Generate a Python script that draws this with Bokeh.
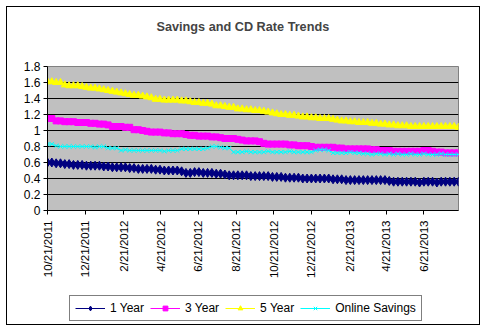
import pandas as pd
from math import pi
from bokeh.plotting import figure
from bokeh.layouts import column
from bokeh.models import Range1d, FixedTicker, Legend, LegendItem, Title
from bokeh.embed import file_html
from bokeh.resources import INLINE

# ---------------- data ----------------
start_date = "2011-10-21"
n_points = 96
dates = pd.date_range(start_date, periods=n_points, freq="7D")

one_year = [
    0.60, 0.60, 0.59, 0.59, 0.58, 0.58, 0.57, 0.57, 0.57, 0.56, 0.56, 0.56,
    0.56, 0.55, 0.55, 0.54, 0.54, 0.54, 0.54, 0.53, 0.53, 0.52, 0.52, 0.52,
    0.52, 0.51, 0.51, 0.50, 0.50, 0.50, 0.50, 0.49, 0.47, 0.47, 0.48, 0.48,
    0.47, 0.47, 0.47, 0.46, 0.46, 0.45, 0.44, 0.44, 0.44, 0.44, 0.44, 0.43,
    0.43, 0.43, 0.43, 0.43, 0.42, 0.42, 0.42, 0.41, 0.41, 0.41, 0.41, 0.40,
    0.40, 0.40, 0.40, 0.40, 0.40, 0.40, 0.39, 0.39, 0.39, 0.38, 0.38, 0.38,
    0.38, 0.38, 0.38, 0.38, 0.38, 0.38, 0.38, 0.37, 0.36, 0.36, 0.36, 0.36,
    0.36, 0.36, 0.35, 0.36, 0.36, 0.36, 0.35, 0.36, 0.36, 0.36, 0.36, 0.36,
]
three_year = [
    1.15, 1.15, 1.12, 1.12, 1.11, 1.11, 1.11, 1.10, 1.10, 1.10, 1.09, 1.09,
    1.08, 1.08, 1.07, 1.05, 1.05, 1.05, 1.04, 1.04, 1.01, 1.01, 1.00, 0.99,
    0.98, 0.98, 0.98, 0.97, 0.97, 0.96, 0.96, 0.96, 0.95, 0.94, 0.94, 0.93,
    0.93, 0.93, 0.92, 0.92, 0.91, 0.90, 0.90, 0.90, 0.89, 0.88, 0.87, 0.87,
    0.87, 0.86, 0.84, 0.83, 0.83, 0.83, 0.83, 0.83, 0.82, 0.82, 0.81, 0.81,
    0.81, 0.80, 0.79, 0.79, 0.79, 0.79, 0.79, 0.78, 0.78, 0.77, 0.77, 0.77,
    0.77, 0.77, 0.77, 0.76, 0.76, 0.75, 0.75, 0.75, 0.74, 0.74, 0.74, 0.74,
    0.74, 0.74, 0.74, 0.75, 0.75, 0.74, 0.73, 0.73, 0.72, 0.72, 0.72, 0.72,
]
five_year = [
    1.61, 1.61, 1.60, 1.60, 1.57, 1.56, 1.56, 1.56, 1.55, 1.54, 1.53, 1.53,
    1.52, 1.51, 1.50, 1.49, 1.48, 1.47, 1.46, 1.45, 1.44, 1.44, 1.43, 1.42,
    1.41, 1.39, 1.39, 1.38, 1.38, 1.38, 1.38, 1.37, 1.37, 1.36, 1.35, 1.35,
    1.34, 1.34, 1.33, 1.31, 1.31, 1.30, 1.29, 1.29, 1.27, 1.27, 1.26, 1.26,
    1.25, 1.25, 1.24, 1.23, 1.22, 1.21, 1.20, 1.20, 1.19, 1.19, 1.18, 1.17,
    1.17, 1.16, 1.16, 1.15, 1.15, 1.15, 1.14, 1.13, 1.12, 1.12, 1.11, 1.11,
    1.10, 1.10, 1.10, 1.09, 1.09, 1.08, 1.08, 1.07, 1.07, 1.06, 1.06, 1.06,
    1.05, 1.05, 1.05, 1.05, 1.05, 1.05, 1.05, 1.05, 1.05, 1.05, 1.05, 1.04,
]
online_savings = [
    0.83, 0.83, 0.81, 0.80, 0.80, 0.80, 0.80, 0.80, 0.80, 0.80, 0.80, 0.79,
    0.80, 0.80, 0.78, 0.78, 0.78, 0.75, 0.76, 0.75, 0.75, 0.75, 0.75, 0.75,
    0.75, 0.75, 0.75, 0.74, 0.75, 0.75, 0.75, 0.77, 0.77, 0.77, 0.77, 0.77,
    0.77, 0.78, 0.80, 0.80, 0.79, 0.78, 0.78, 0.73, 0.73, 0.73, 0.74, 0.73,
    0.73, 0.73, 0.73, 0.74, 0.73, 0.73, 0.73, 0.73, 0.74, 0.73, 0.73, 0.73,
    0.73, 0.73, 0.75, 0.76, 0.76, 0.75, 0.72, 0.72, 0.72, 0.72, 0.73, 0.72,
    0.72, 0.71, 0.71, 0.70, 0.71, 0.71, 0.70, 0.71, 0.70, 0.71, 0.70, 0.70,
    0.71, 0.70, 0.70, 0.71, 0.70, 0.70, 0.70, 0.71, 0.70, 0.70, 0.70, 0.70,
]

series_names = ["1 Year", "3 Year", "5 Year", "Online Savings"]
x_tick_labels = ["10/21/2011", "12/21/2011", "2/21/2012", "4/21/2012", "6/21/2012",
                 "8/21/2012", "10/21/2012", "12/21/2012", "2/21/2013", "4/21/2013",
                 "6/21/2013"]
y_ticks = [0, 0.2, 0.4, 0.6, 0.8, 1, 1.2, 1.4, 1.6, 1.8]
y_tick_labels = ["0", "0.2", "0.4", "0.6", "0.8", "1", "1.2", "1.4", "1.6", "1.8"]

# ---------------- main figure ----------------
FONT = "Liberation Sans"

p = figure(width=472, height=284, output_backend="svg", toolbar_location=None,
           x_axis_type="datetime",
           x_range=Range1d(dates[0], dates[-1]), y_range=Range1d(0, 1.8),
           min_border_left=40, min_border_right=21, min_border_top=59,
           min_border_bottom=81)

p.title.text = "Savings and CD Rate Trends"
p.title.align = "left"
p.title.text_font = FONT
p.title.text_font_size = "12.7px"
p.title.text_font_style = "bold"
p.title.offset = 109
p.title.standoff = 0
# empty spacer between the title and the plot area
spacer = Title(text=" ", text_font_size="28px", standoff=0)
p.add_layout(spacer, "above")

p.background_fill_color = "#C0C0C0"
p.border_fill_color = "white"
p.outline_line_color = "#808080"
p.outline_line_width = 1

tick_ms = [int(pd.to_datetime(s, format="%m/%d/%Y").value // 10**6) for s in x_tick_labels]
p.xaxis.ticker = FixedTicker(ticks=tick_ms, minor_ticks=[])
p.xaxis.major_label_overrides = {t: s for t, s in zip(tick_ms, x_tick_labels)}
p.xaxis.major_label_orientation = pi / 2
p.yaxis.ticker = FixedTicker(ticks=y_ticks, minor_ticks=[])
p.yaxis.major_label_overrides = {t: s for t, s in zip(y_ticks, y_tick_labels)}
for ax in (p.xaxis, p.yaxis):
    ax.axis_line_color = "black"
    ax.major_tick_line_color = "black"
    ax.major_tick_in = 0
    ax.major_tick_out = 4
    ax.minor_tick_line_color = None
    ax.major_label_text_font = FONT
    ax.major_label_text_font_size = "11.5px"
    ax.major_label_text_color = "black"
p.yaxis.major_label_text_font_size = "12px"
p.xaxis.major_label_standoff = 6
p.yaxis.major_label_standoff = 3

p.xgrid.visible = False
p.ygrid.ticker = FixedTicker(ticks=y_ticks[1:-1], minor_ticks=[])
p.ygrid.grid_line_color = "black"
p.ygrid.grid_line_width = 1

styles = [
    (one_year, "#000080", "diamond", 9),
    (three_year, "#FF00FF", "square", 6),
    (five_year, "#FFFF00", "triangle", 7),
    (online_savings, "#00FFFF", "x", 6),
]


def draw(fig, xs, ys, col, mk, sz):
    lr = fig.line(xs, ys, line_color=col, line_width=1)
    if mk == "x":
        sr = fig.scatter(xs, ys, marker=mk, size=sz, line_color=col, line_width=1)
    else:
        sr = fig.scatter(xs, ys, marker=mk, size=sz, fill_color=col, line_color=col)
    return lr, sr


for vals, col, mk, sz in styles:
    draw(p, dates, vals, col, mk, sz)

# ---------------- legend strip ----------------
# same series drawn into a strip whose view range excludes them; only the legend shows
lf = figure(width=472, height=33, output_backend="svg", toolbar_location=None,
            x_axis_location=None, y_axis_location=None, title_location=None,
            x_range=Range1d(0, 1), y_range=Range1d(0, 1),
            min_border_left=40, min_border_right=21, min_border_top=0,
            min_border_bottom=0)
lf.grid.visible = False
lf.outline_line_color = None
lf.background_fill_color = "white"
lf.border_fill_color = "white"

items = []
for name, (vals, col, mk, sz) in zip(series_names, styles):
    lr, sr = draw(lf, dates, vals, col, mk, sz)
    items.append(LegendItem(label=name, renderers=[lr, sr]))

legend = Legend(items=items, orientation="horizontal", location=(22, 3))
legend.border_line_color = "black"
legend.border_line_width = 1
legend.background_fill_color = "white"
legend.background_fill_alpha = 1
legend.label_text_font = FONT
legend.label_text_font_size = "12px"
legend.label_text_color = "black"
legend.padding = 5
legend.spacing = 6
legend.margin = 0
legend.glyph_width = 30
legend.glyph_height = 12
legend.label_standoff = 5
legend.label_height = 12
lf.add_layout(legend, "center")

layout = column(p, lf, spacing=0)
layout.margin = (6, 0, 0, 6)
layout.styles = {"border": "1px solid black"}

open("out.html", "w").write(file_html(layout, INLINE))
